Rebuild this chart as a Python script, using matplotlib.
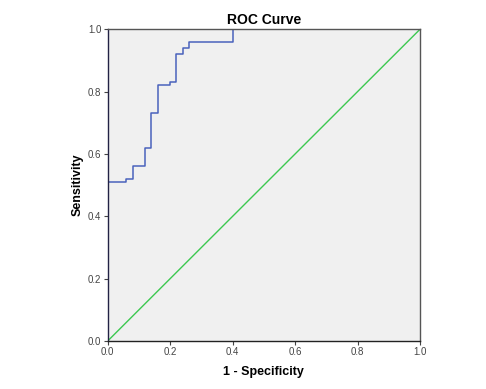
"""ROC curve recreation."""

import matplotlib
matplotlib.use("Agg")
import matplotlib.pyplot as plt

# step points of the ROC curve (1 - specificity, sensitivity)
fpr = [0.0, 0.0, 0.06, 0.06, 0.08, 0.08, 0.12, 0.12, 0.14, 0.14, 0.16, 0.16,
       0.20, 0.20, 0.22, 0.22, 0.24, 0.24, 0.26, 0.26, 0.40, 0.40, 1.0]
tpr = [0.0, 0.51, 0.51, 0.52, 0.52, 0.56, 0.56, 0.62, 0.62, 0.73, 0.73, 0.82,
       0.82, 0.83, 0.83, 0.92, 0.92, 0.94, 0.94, 0.96, 0.96, 1.0, 1.0]
ref_line = [0.0, 1.0]
ticks = [0.0, 0.2, 0.4, 0.6, 0.8, 1.0]

plt.rcParams["font.family"] = ["Liberation Sans", "DejaVu Sans"]

fig = plt.figure(figsize=(4.86, 3.89), dpi=100)
ax = fig.add_axes([0.2216, 0.1234, 0.6426, 0.8013])
ax.set_facecolor("#f0f0f0")

ax.plot(ref_line, ref_line, color="#3cc850", linewidth=1.0)
ax.plot(fpr, tpr, color="#4a62bc", linewidth=1.1)

ax.set_xlim(0, 1)
ax.set_ylim(0, 1)
ax.set_xticks(ticks)
ax.set_yticks(ticks)
ax.set_xticklabels([f"{t:.1f}" for t in ticks])
ax.set_yticklabels([f"{t:.1f}" for t in ticks])
ax.tick_params(labelsize=7, length=3, width=0.8, colors="#444444", pad=1.5)

for spine in ax.spines.values():
    spine.set_color("#555555")
    spine.set_linewidth(1.0)
ax.spines["left"].set_color("#222244")
ax.spines["bottom"].set_color("#222222")

ax.set_title("ROC Curve", fontsize=10, fontweight="bold", pad=4)
ax.set_xlabel("1 - Specificity", fontsize=9, fontweight="bold", labelpad=6)
ax.set_ylabel("Sensitivity", fontsize=9, fontweight="bold", labelpad=3)

fig.savefig("out.png", dpi=100)
